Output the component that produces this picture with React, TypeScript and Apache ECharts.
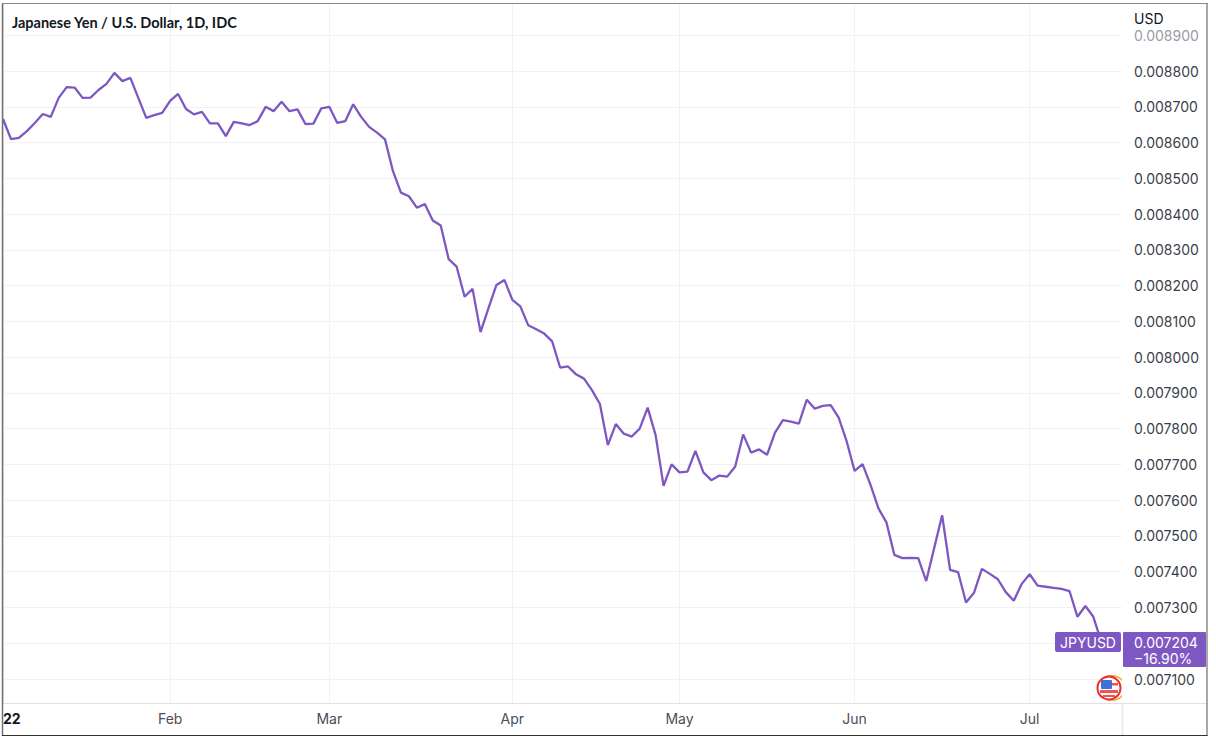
import React, { useEffect, useRef } from "react";
import * as echarts from "echarts";

const titleText = "Japanese Yen / U.S. Dollar, 1D, IDC";
const currencyLabel = "USD";
const symbolLabel = "JPYUSD";
const lastPriceLabel = "0.007204";
const changeLabel = "\u221216.90%";

const jan = [0.008666, 0.00861, 0.008613, 0.008632, 0.008655, 0.00868, 0.008672, 0.008725, 0.008755, 0.008754, 0.008725, 0.008726, 0.008747, 0.008764, 0.008795, 0.008772, 0.008781, 0.008725, 0.008669, 0.008677, 0.008683];
const feb = [0.008717, 0.008736, 0.008694, 0.008679, 0.008686, 0.008654, 0.008654, 0.008618, 0.008658, 0.008654, 0.008649, 0.00866, 0.0087, 0.008688, 0.008714, 0.008688, 0.008693, 0.008652, 0.008653, 0.008696];
const mar = [0.0087, 0.008655, 0.00866, 0.008707, 0.008672, 0.008644, 0.008628, 0.008609, 0.00852, 0.00846, 0.00845, 0.008418, 0.008428, 0.008382, 0.008368, 0.008274, 0.008253, 0.008169, 0.008191, 0.00807, 0.008137, 0.008202, 0.008216];
const apr = [0.00816, 0.008142, 0.008089, 0.008078, 0.008066, 0.008044, 0.007971, 0.007974, 0.007952, 0.00794, 0.007908, 0.007869, 0.007754, 0.007813, 0.007786, 0.007778, 0.0078, 0.007859, 0.007782, 0.00764, 0.0077];
const may = [0.007678, 0.00768, 0.007738, 0.007678, 0.007656, 0.007669, 0.007666, 0.007694, 0.007784, 0.007733, 0.007742, 0.007727, 0.007789, 0.007824, 0.00782, 0.007814, 0.007881, 0.007856, 0.007864, 0.007866, 0.007831, 0.007765];
const jun = [0.007682, 0.007701, 0.007643, 0.007577, 0.007538, 0.007447, 0.007438, 0.007439, 0.007438, 0.007374, 0.007466, 0.007558, 0.007405, 0.007399, 0.007314, 0.007341, 0.007408, 0.007394, 0.007379, 0.007343, 0.007319, 0.007366];
const jul = [0.007393, 0.007361, 0.007358, 0.007355, 0.007352, 0.007346, 0.007274, 0.007304, 0.007274, 0.007204];

const monthLabels = ["22", "Feb", "Mar", "Apr", "May", "Jun", "Jul"];
const monthValues = [jan, feb, mar, apr, may, jun, jul];
const yTicks = [0.0071, 0.0072, 0.0073, 0.0074, 0.0075, 0.0076, 0.0077, 0.0078, 0.0079, 0.008, 0.0081, 0.0082, 0.0083, 0.0084, 0.0085, 0.0086, 0.0087, 0.0088, 0.0089];

const seriesData = monthValues.flat().map((v, i) => [i, v]);
const monthStarts: number[] = [];
monthValues.reduce((acc, m) => {
  monthStarts.push(acc);
  return acc + m.length;
}, 0);
const labelByIndex: Record<number, string> = {};
monthStarts.forEach((s, i) => (labelByIndex[s] = monthLabels[i]));

const PURPLE = "#7e57c2";
const FONT = "Inter, 'Liberation Sans', sans-serif";
const GRID = "#f2f2f5";

export default function App() {
  const ref = useRef<HTMLDivElement>(null);
  useEffect(() => {
    if (!ref.current) return;
    const chart = echarts.init(ref.current, undefined, { renderer: "svg" });
    chart.setOption({
      animation: false,
      backgroundColor: "#ffffff",
      title: {
        text: titleText,
        left: 12,
        top: 15,
        padding: 0,
        textStyle: { fontFamily: "Lato, sans-serif", fontSize: 14.5, fontWeight: 700, color: "#131722" },
      },
      grid: { left: 2.7, top: 3, width: 1119.3, height: 700 },
      xAxis: {
        type: "value",
        min: 0,
        max: 140.6,
        axisLine: { show: false },
        axisTick: { show: false, customValues: monthStarts },
        splitLine: { show: true, lineStyle: { color: GRID, width: 1 } },
        axisLabel: {
          customValues: monthStarts,
          showMinLabel: true,
          margin: 8,
          alignMinLabel: "left",
          fontFamily: FONT,
          fontSize: 14,
          color: "#4a4d57",
          formatter: (v: number) => (labelByIndex[v] === "22" ? "{b|22}" : labelByIndex[v] ?? ""),
          rich: { b: { fontFamily: FONT, fontSize: 14, fontWeight: 700, color: "#131722" } },
        },
      },
      yAxis: {
        type: "value",
        position: "right",
        min: 0.00703289,
        max: 0.00899038,
        axisLine: { show: true, lineStyle: { color: "#e6e7eb", width: 1.5 } },
        axisTick: { show: false, customValues: yTicks },
        splitLine: { show: true, lineStyle: { color: GRID, width: 1 } },
        axisLabel: {
          customValues: yTicks,
          margin: 12,
          fontFamily: FONT,
          fontSize: 14,
          color: (v: number) => (v > 0.00885 ? "#9a9da6" : "#3b3f4a"),
          formatter: (v: number) => v.toFixed(6),
        },
      },
      series: [
        {
          type: "line",
          data: seriesData,
          showSymbol: false,
          lineStyle: { color: PURPLE, width: 2.3 },
          itemStyle: { color: PURPLE },
        },
      ],
      graphic: [
        { type: "line", z: 50, shape: { x1: 3, y1: 703.5, x2: 1207, y2: 703.5 }, style: { stroke: "#dfe0e4", lineWidth: 1 } },
        { type: "line", z: 50, shape: { x1: 1122.5, y1: 703, x2: 1122.5, y2: 735 }, style: { stroke: "#e6e7eb", lineWidth: 1.5 } },
        { type: "line", z: 60, shape: { x1: 2.5, y1: 3.5, x2: 2.5, y2: 736 }, style: { stroke: "#707070", lineWidth: 1.5 } },
        { type: "line", z: 60, shape: { x1: 2, y1: 3.5, x2: 1207.5, y2: 3.5 }, style: { stroke: "#8a8a8a", lineWidth: 1.2 } },
        { type: "line", z: 60, shape: { x1: 1207, y1: 3, x2: 1207, y2: 736 }, style: { stroke: "#707070", lineWidth: 1.2 } },
        { type: "line", z: 60, shape: { x1: 2, y1: 735.5, x2: 1207.5, y2: 735.5 }, style: { stroke: "#333333", lineWidth: 1.2 } },
        { type: "text", z: 60, x: 1134, y: 11, style: { text: currencyLabel, font: `14px ${FONT}`, fill: "#131722" } },
        { type: "rect", z: 61, shape: { x: 1055, y: 632, width: 66, height: 20, r: 2 }, style: { fill: PURPLE } },
        { type: "text", z: 62, x: 1088, y: 642, style: { text: symbolLabel, font: `14px ${FONT}`, fill: "#ffffff", align: "center", verticalAlign: "middle" } },
        { type: "rect", z: 61, shape: { x: 1123, y: 632, width: 83, height: 35, r: 1 }, style: { fill: PURPLE } },
        { type: "text", z: 62, x: 1134, y: 642, style: { text: lastPriceLabel, font: `14px ${FONT}`, fill: "#ffffff", verticalAlign: "middle" } },
        { type: "text", z: 62, x: 1134, y: 658, style: { text: changeLabel, font: `14px ${FONT}`, fill: "#ffffff", verticalAlign: "middle" } },
        { type: "circle", z: 61, shape: { cx: 1113, cy: 688, r: 12 }, style: { fill: "#ffffff", stroke: "#f5a623", lineWidth: 1.5 } },
        { type: "rect", z: 61, shape: { x: 1122, y: 674, width: 6, height: 28 }, style: { fill: "#ffffff" } },
        { type: "circle", z: 62, shape: { cx: 1109, cy: 688, r: 11.5 }, style: { fill: "#ffffff", stroke: "#ee2a2a", lineWidth: 2 } },
        { type: "rect", z: 63, shape: { x: 1101, y: 680, width: 11, height: 9, r: 1 }, style: { fill: "#3f6fd8" } },
        { type: "rect", z: 63, shape: { x: 1112, y: 683, width: 6, height: 2.5 }, style: { fill: "#ef5350" } },
        { type: "rect", z: 63, shape: { x: 1100, y: 690, width: 18, height: 3 }, style: { fill: "#ef5350" } },
        { type: "rect", z: 63, shape: { x: 1103, y: 695, width: 12, height: 2 }, style: { fill: "#ef5350" } },
      ],
    });
    return () => chart.dispose();
  }, []);
  return <div ref={ref} style={{ position: "absolute", left: 0, top: 0, width: 1216, height: 739 }} />;
}
